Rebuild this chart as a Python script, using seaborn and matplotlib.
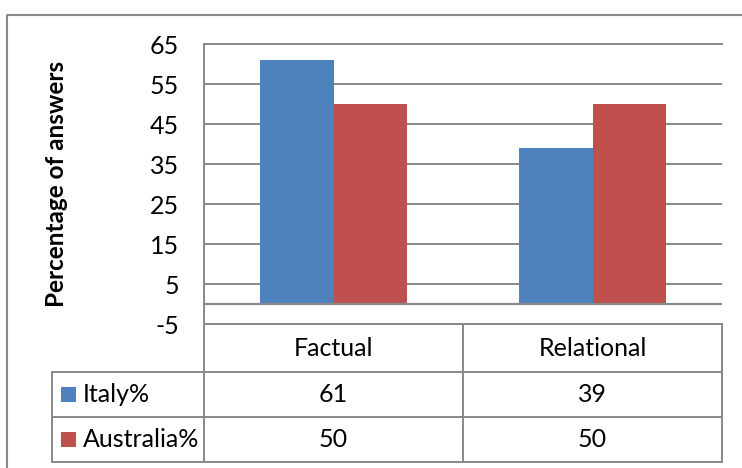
import matplotlib
matplotlib.use("Agg")
import matplotlib.pyplot as plt
import seaborn as sns
import pandas as pd
from matplotlib.lines import Line2D
from matplotlib.patches import Rectangle

# Chart data
categories = ["Factual", "Relational"]
series_names = ["Italy%", "Australia%"]
italy = [61, 39]
australia = [50, 50]
y_ticks = [-5, 5, 15, 25, 35, 45, 55, 65]
y_label = "Percentage of answers"

colors = ["#4F81BD", "#C0504D"]
line_gray = "#898989"

sns.set_theme(style="white")
plt.rcParams["font.family"] = ["Lato", "DejaVu Sans"]

W, H = 742, 468
fig = plt.figure(figsize=(W / 100, H / 100), dpi=100)


def fx(px):
    return px / W


def fy(py):
    return 1 - py / H


# Plot area (pixel bounds)
left, right, top, bottom = 204, 722, 44, 324
ax = fig.add_axes([fx(left), fy(bottom), fx(right) - fx(left), fy(top) - fy(bottom)])

df = pd.DataFrame({
    "category": categories * 2,
    "series": [series_names[0]] * len(categories) + [series_names[1]] * len(categories),
    "value": italy + australia,
})
sns.barplot(data=df, x="category", y="value", hue="series", hue_order=series_names,
            order=categories, palette=colors, width=0.571, gap=0, saturation=1,
            legend=False, ax=ax, edgecolor="none", linewidth=0, zorder=3)

font_size = 18

ax.set_ylim(-5, 65)
ax.set_xlim(-0.5, len(categories) - 0.5)
ax.set_yticks(y_ticks)
ax.set_yticklabels([str(t) for t in y_ticks])
ax.set_xticks([])
ax.set_xlabel("")
ax.tick_params(axis="y", length=0, pad=18, labelsize=font_size, labelcolor="black")
ax.yaxis.grid(True, color=line_gray, linewidth=1.4)
ax.set_axisbelow(True)
ax.axhline(0, color=line_gray, linewidth=1.6, zorder=4)

for side in ["left", "top", "bottom"]:
    ax.spines[side].set_color(line_gray)
    ax.spines[side].set_linewidth(1.4)
ax.spines["right"].set_visible(False)

ax.set_ylabel(y_label, fontsize=17.5, fontweight="bold", color="black", va="center")
ax.yaxis.set_label_coords((57 - left) / (right - left), 0.5)

# Data table beneath the plot, drawn in pixel coordinates
tab = fig.add_axes([0, 0, 1, 1], zorder=-1)
tab.set_xlim(0, W)
tab.set_ylim(H, 0)
tab.axis("off")

head_left = 52
row_edges = [324, 372, 417, 462]
n = len(categories)
col_edges = [left + (right - left) * i / n for i in range(n + 1)]
lw = 1.4

tab.add_line(Line2D([col_edges[0], col_edges[-1]], [row_edges[0]] * 2, color=line_gray, lw=lw))
for yy in row_edges[1:]:
    tab.add_line(Line2D([head_left, col_edges[-1]], [yy, yy], color=line_gray, lw=lw))
tab.add_line(Line2D([head_left, head_left], [row_edges[1], row_edges[-1]], color=line_gray, lw=lw))
tab.add_line(Line2D([left, left], [row_edges[0], row_edges[-1]], color=line_gray, lw=lw))
for xx in col_edges[1:]:
    tab.add_line(Line2D([xx, xx], [row_edges[0], row_edges[-1]], color=line_gray, lw=lw))

for i, cat in enumerate(categories):
    cx = (col_edges[i] + col_edges[i + 1]) / 2
    tab.text(cx, (row_edges[0] + row_edges[1]) / 2, cat, ha="center", va="center",
             fontsize=font_size, color="black")

for r, (name, vals, col) in enumerate(zip(series_names, [italy, australia], colors)):
    y0, y1 = row_edges[r + 1], row_edges[r + 2]
    cy = (y0 + y1) / 2
    tab.add_patch(Rectangle((61, cy - 7.5), 15, 15, facecolor=col, edgecolor="none"))
    tab.text(83, cy, name, ha="left", va="center", fontsize=font_size, color="black")
    for i, v in enumerate(vals):
        cx = (col_edges[i] + col_edges[i + 1]) / 2
        tab.text(cx, cy, str(v), ha="center", va="center", fontsize=font_size, color="black")

# Chart frame
tab.add_line(Line2D([7, 7, W + 5], [H + 5, 15, 15], color=line_gray, lw=1.5))

fig.savefig("out.png", dpi=100, facecolor="white")
